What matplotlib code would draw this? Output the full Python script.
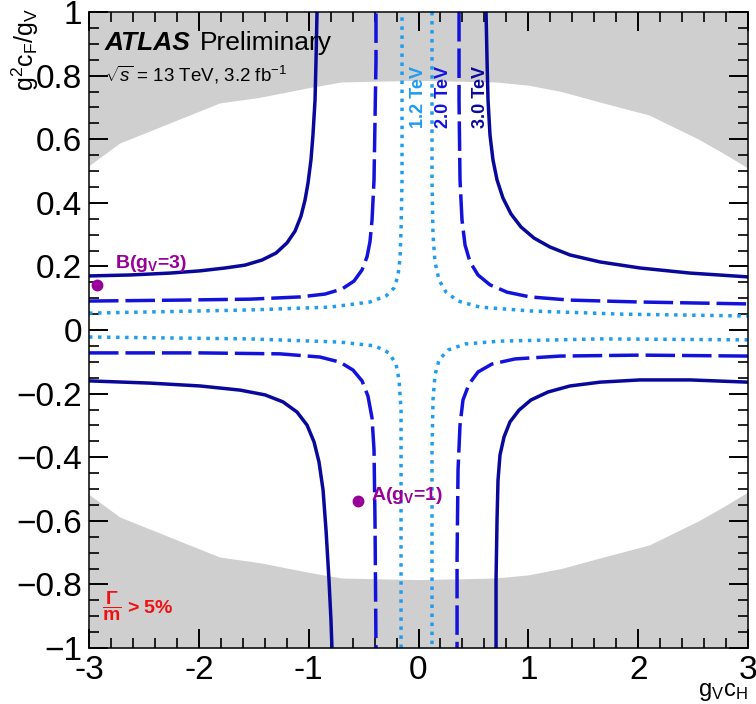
import matplotlib
matplotlib.use("Agg")
import matplotlib.pyplot as plt
from matplotlib.ticker import FixedLocator, FixedFormatter, MultipleLocator

plt.rcParams['font.family'] = ['Liberation Sans', 'DejaVu Sans']
plt.rcParams['mathtext.fontset'] = 'custom'
plt.rcParams['mathtext.rm'] = 'Liberation Sans'
plt.rcParams['mathtext.it'] = 'Liberation Sans:italic'
plt.rcParams['mathtext.bf'] = 'Liberation Sans:bold'
plt.rcParams['mathtext.sf'] = 'Liberation Sans'

# ---- data ---------------------------------------------------------------
# Region where the resonance width exceeds 5% of its mass (upper edge; the
# lower edge is its mirror image)
width_x = [-3.0, -2.72, -1.81, -1.44, -1.0, -0.7, 0.0, 0.7, 1.0, 1.3, 1.65, 2.1, 2.55, 2.78, 3.0]
width_y = [0.517, 0.588, 0.714, 0.732, 0.762, 0.78, 0.785, 0.78, 0.77, 0.75, 0.717, 0.676, 0.60, 0.555, 0.509]

# Excluded-mass contours (g_V c_H, g^2 c_F / g_V), one branch per quadrant
m30_ul_x = [-3.0, -2.627, -2.262, -1.989, -1.762, -1.580, -1.425, -1.297, -1.197, -1.124, -1.070,
            -1.033, -1.006, -0.979, -0.961, -0.942, -0.933, -0.924]
m30_ul_y = [0.170, 0.173, 0.179, 0.186, 0.195, 0.204, 0.220, 0.242, 0.274, 0.311, 0.358,
            0.409, 0.462, 0.535, 0.613, 0.723, 0.849, 1.0]
m30_ur_x = [0.615, 0.624, 0.633, 0.651, 0.678, 0.715, 0.769, 0.842, 0.933, 1.052, 1.197, 1.379,
            1.653, 2.017, 2.472, 3.0]
m30_ur_y = [1.0, 0.849, 0.723, 0.613, 0.535, 0.472, 0.415, 0.365, 0.324, 0.289, 0.261, 0.236,
            0.214, 0.195, 0.179, 0.167]
m30_ll_x = [-3.0, -2.445, -1.989, -1.625, -1.398, -1.234, -1.106, -1.015, -0.951, -0.906, -0.869,
            -0.842, -0.815, -0.797, -0.788]
m30_ll_y = [-0.160, -0.167, -0.176, -0.189, -0.204, -0.226, -0.258, -0.299, -0.352, -0.415, -0.503,
            -0.629, -0.786, -0.912, -1.0]
m30_lr_x = [3.0, 2.472, 2.017, 1.653, 1.379, 1.179, 1.024, 0.915, 0.833, 0.779, 0.742, 0.724,
            0.715, 0.706, 0.706]
m30_lr_y = [-0.164, -0.157, -0.157, -0.164, -0.176, -0.195, -0.220, -0.252, -0.289, -0.336, -0.393,
            -0.472, -0.597, -0.786, -1.0]

m20_ul_x = [-3.0, -2.171, -1.534, -1.079, -0.851, -0.696, -0.587, -0.514, -0.469, -0.442, -0.423,
            -0.405, -0.396, -0.387, -0.387]
m20_ul_y = [0.091, 0.094, 0.097, 0.104, 0.113, 0.129, 0.154, 0.189, 0.230, 0.277, 0.346,
            0.472, 0.660, 0.849, 1.0]
m20_ur_x = [0.369, 0.369, 0.378, 0.396, 0.424, 0.469, 0.542, 0.651, 0.806, 1.015, 1.379, 2.017, 3.0]
m20_ur_y = [1.0, 0.723, 0.472, 0.346, 0.267, 0.214, 0.173, 0.142, 0.119, 0.104, 0.094, 0.088, 0.082]
m20_ll_x = [-3.0, -1.989, -1.261, -0.897, -0.715, -0.596, -0.514, -0.460, -0.423, -0.405, -0.396, -0.387]
m20_ll_y = [-0.072, -0.072, -0.075, -0.085, -0.101, -0.126, -0.160, -0.208, -0.277, -0.377, -0.597, -1.0]
m20_lr_x = [3.0, 2.017, 1.288, 0.879, 0.669, 0.542, 0.460, 0.405, 0.378, 0.360, 0.351, 0.351]
m20_lr_y = [-0.082, -0.079, -0.082, -0.091, -0.107, -0.132, -0.170, -0.220, -0.299, -0.440, -0.723, -1.0]

m12_ul_x = [-3.0, -1.534, -0.806, -0.442, -0.296, -0.223, -0.187, -0.168, -0.159, -0.150, -0.150]
m12_ul_y = [0.053, 0.063, 0.072, 0.088, 0.107, 0.132, 0.170, 0.226, 0.314, 0.472, 1.0]
m12_ur_x = [0.123, 0.123, 0.132, 0.150, 0.187, 0.251, 0.360, 0.560, 1.015, 1.835, 3.0]
m12_ur_y = [1.0, 0.472, 0.299, 0.214, 0.157, 0.119, 0.091, 0.072, 0.060, 0.050, 0.044]
m12_ll_x = [-3.0, -1.534, -0.715, -0.396, -0.269, -0.205, -0.177, -0.159, -0.159, -0.159]
m12_ll_y = [-0.022, -0.028, -0.038, -0.050, -0.072, -0.107, -0.157, -0.252, -0.409, -1.0]
m12_lr_x = [3.0, 1.653, 0.742, 0.424, 0.269, 0.187, 0.150, 0.132, 0.123, 0.123]
m12_lr_y = [-0.031, -0.028, -0.035, -0.044, -0.063, -0.094, -0.142, -0.220, -0.377, -1.0]

mass_labels = ['1.2 TeV', '2.0 TeV', '3.0 TeV']
mass_label_x = [0.0, 0.232, 0.56]

# Benchmark models
bench_names = ['A(g$_{\\mathbf{V}}$=1)', 'B(g$_{\\mathbf{V}}$=3)']
bench_x = [-0.55, -2.93]
bench_y = [-0.538, 0.142]

x_ticks = [-3, -2, -1, 0, 1, 2, 3]
x_ticklabels = ['-3', '-2', '-1', '0', '1', '2', '3']
y_ticks = [-1.0, -0.8, -0.6, -0.4, -0.2, 0.0, 0.2, 0.4, 0.6, 0.8, 1.0]
y_ticklabels = ['\u22121', '\u22120.8', '\u22120.6', '\u22120.4', '\u22120.2', '0',
                '0.2', '0.4', '0.6', '0.8', '1']

# ---- styles -------------------------------------------------------------
col_12 = '#1e9cf0'
col_20 = '#1212dc'
col_30 = '#08089a'
purple = '#990099'
lw = 2.5

fig = plt.figure(figsize=(7.56, 7.04), dpi=100)
ax = fig.add_axes([89 / 756, 1 - 648 / 704, 659 / 756, 636 / 704])
ax.set_xlim(-3, 3)
ax.set_ylim(-1, 1)

gray = '#cfcfcf'
ax.fill_between(width_x, width_y, 1.0, color=gray, lw=0, zorder=1)
ax.fill_between(width_x, [-v for v in width_y], -1.0, color=gray, lw=0, zorder=1)

line_kw = dict(zorder=3, solid_capstyle='butt', dash_capstyle='butt', solid_joinstyle='round')
for xs, ys in ((m30_ul_x, m30_ul_y), (m30_ur_x, m30_ur_y), (m30_ll_x, m30_ll_y), (m30_lr_x, m30_lr_y)):
    ax.plot(xs, ys, color=col_30, lw=lw, **line_kw)
for xs, ys in ((m20_ul_x, m20_ul_y), (m20_ur_x, m20_ur_y), (m20_ll_x, m20_ll_y), (m20_lr_x, m20_lr_y)):
    ax.plot(xs, ys, color=col_20, lw=lw, linestyle=(0, (8.5, 2.0)), **line_kw)
for xs, ys in ((m12_ul_x, m12_ul_y), (m12_ur_x, m12_ur_y), (m12_ll_x, m12_ll_y), (m12_lr_x, m12_lr_y)):
    ax.plot(xs, ys, color=col_12, lw=lw, linestyle=(0, (1.0, 1.6)), **line_kw)

for lab, xl, c in zip(mass_labels, mass_label_x, [col_12, col_20, col_30]):
    ax.text(xl, 0.733, lab, rotation=90, ha='center', va='center', color=c,
            fontsize=13, fontweight='bold', zorder=5)

ax.plot(bench_x, bench_y, 'o', color=purple, ms=7.5, zorder=4)
ax.text(-0.432, -0.535, bench_names[0], color=purple, fontsize=14, fontweight='bold',
        va='baseline', ha='left', zorder=5)
ax.text(-2.76, 0.195, bench_names[1], color=purple, fontsize=14, fontweight='bold',
        va='baseline', ha='left', zorder=5)

# ---- annotations --------------------------------------------------------
ax.text(0.0243, 0.940, 'ATLAS', transform=ax.transAxes, fontsize=19,
        fontweight='bold', style='italic', va='baseline', zorder=5)
ax.text(0.168, 0.940, 'Preliminary', transform=ax.transAxes, fontsize=19,
        va='baseline', zorder=5)
ax.text(0.0243, 0.890, r'$\sqrt{s}$ = 13 TeV, 3.2 fb$^{-1}$', transform=ax.transAxes,
        fontsize=13.5, va='baseline', zorder=5)
ax.text(0.019, 0.066, r'$\mathbf{\dfrac{\Gamma}{m}}$ > 5%', transform=ax.transAxes,
        fontsize=14, fontweight='bold', color='#f01010', va='center', zorder=5)

# ---- axes ---------------------------------------------------------------
ax.xaxis.set_major_locator(FixedLocator(x_ticks))
ax.xaxis.set_major_formatter(FixedFormatter(x_ticklabels))
ax.xaxis.set_minor_locator(MultipleLocator(0.2))
ax.yaxis.set_major_locator(FixedLocator(y_ticks))
ax.yaxis.set_major_formatter(FixedFormatter(y_ticklabels))
ax.yaxis.set_minor_locator(MultipleLocator(0.05))

ax.tick_params(which='both', direction='in', top=True, right=True, color='black', width=1.4)
ax.tick_params(which='major', length=14, labelsize=24)
ax.tick_params(which='minor', length=7, width=1.2)
ax.tick_params(axis='y', which='major', pad=5)
ax.tick_params(axis='x', which='major', pad=5)
for s in ax.spines.values():
    s.set_linewidth(1.1)
    s.set_zorder(6)

fig.text(748 / 756, 0.001, r'g$_{\mathrm{V}}$c$_{\mathrm{H}}$', ha='right', va='bottom', fontsize=17)
fig.text(25 / 756, 1 - 8 / 704, r'g$^{2}$c$_{\mathrm{F}}$/g$_{\mathrm{V}}$', rotation=90,
         ha='center', va='top', fontsize=18)

fig.savefig('out.png', dpi=100)
